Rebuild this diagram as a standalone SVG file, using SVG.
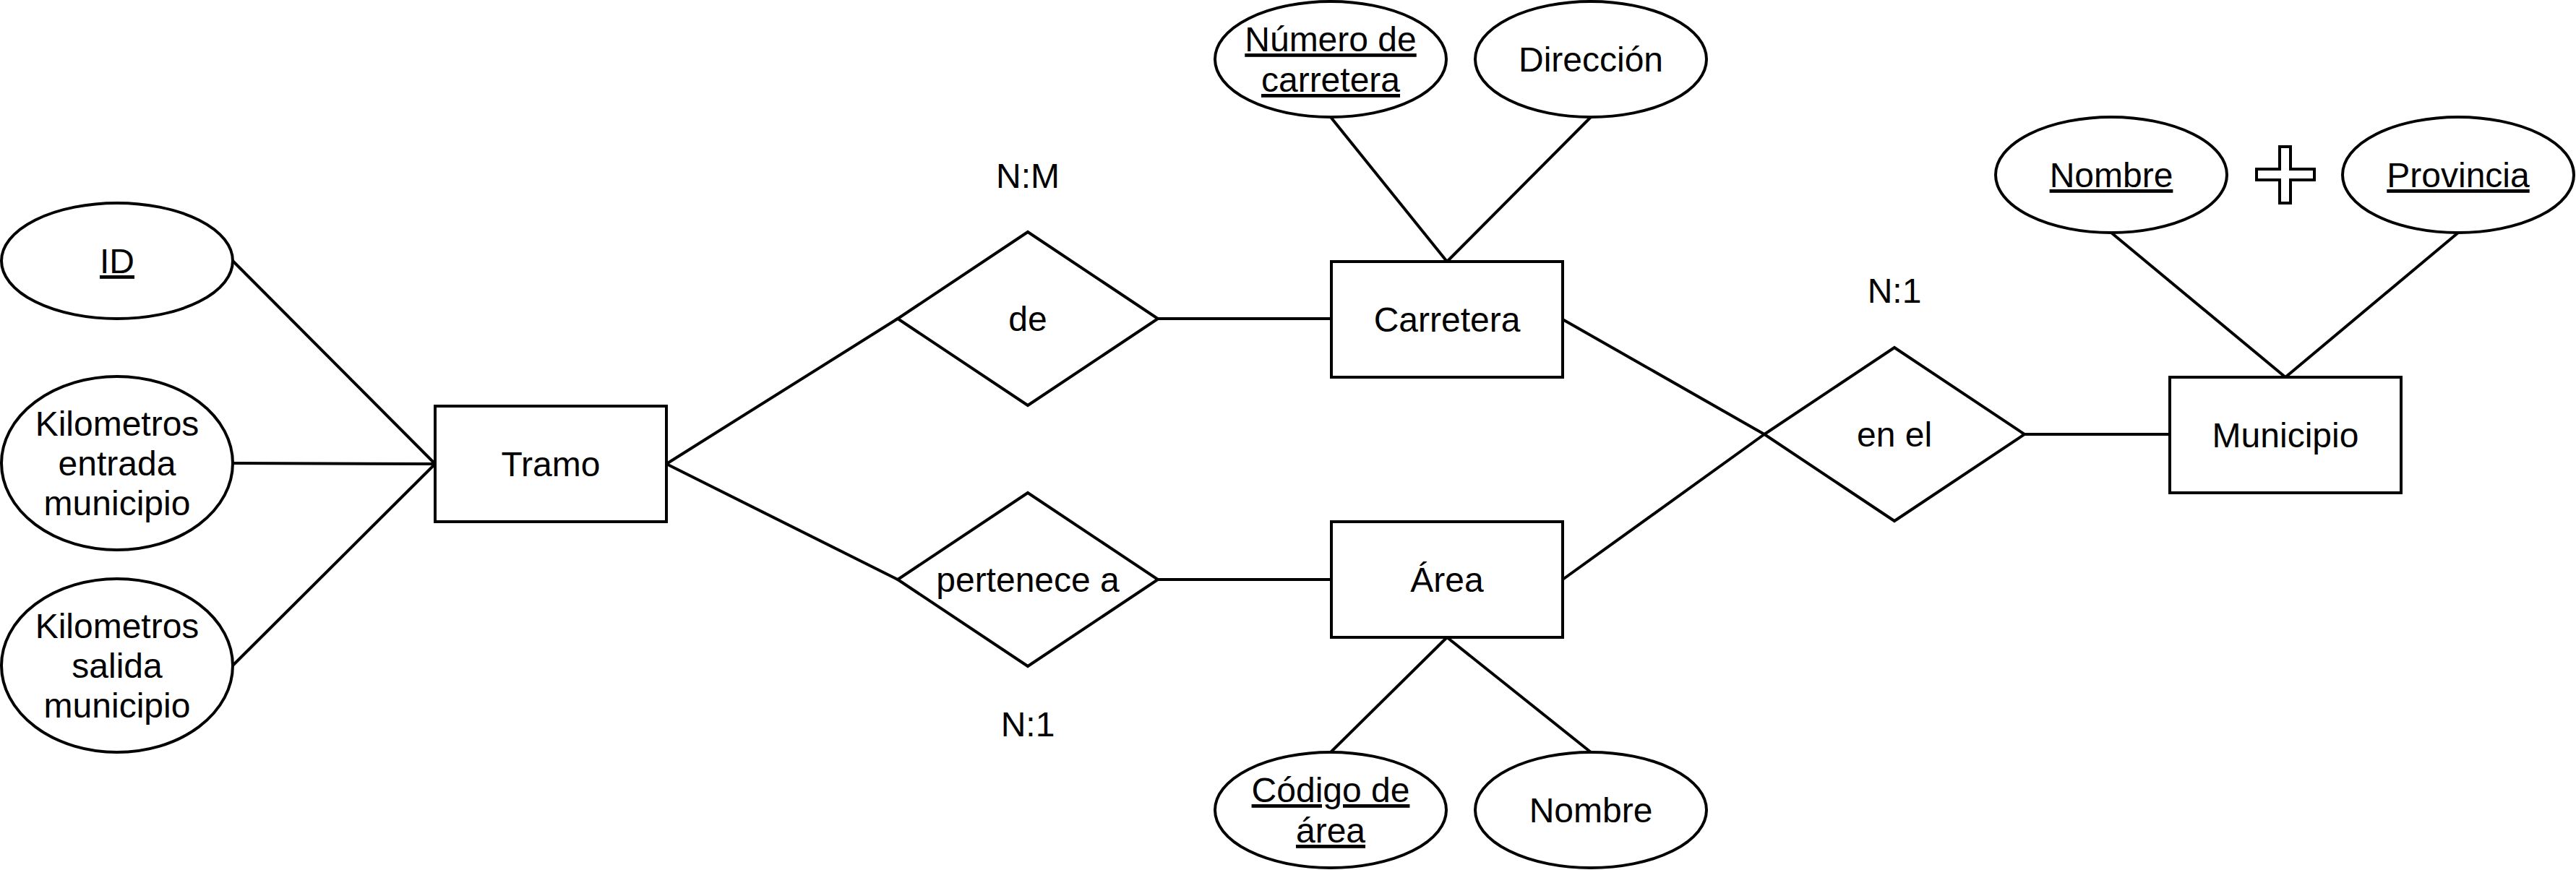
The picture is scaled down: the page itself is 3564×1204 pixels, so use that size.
<svg xmlns="http://www.w3.org/2000/svg" width="3564" height="1204" viewBox="0 0 3564 1204">
<style>
.s{fill:#fff;stroke:#000;stroke-width:4}
.c{fill:none;stroke:#000;stroke-width:4}
text{font-family:"Liberation Sans",Arial,sans-serif;font-size:48px;fill:#000;text-anchor:middle}
.u{text-decoration:underline}
</style>
<rect width="3564" height="1204" fill="#fff"/>
<g id="connectors">
<line class="c" x1="322" y1="361" x2="602" y2="642"/>
<line class="c" x1="322" y1="641" x2="602" y2="642"/>
<line class="c" x1="322" y1="921" x2="602" y2="642"/>
<line class="c" x1="922" y1="642" x2="1242" y2="441"/>
<line class="c" x1="922" y1="642" x2="1242" y2="802"/>
<line class="c" x1="1602" y1="441" x2="1842" y2="441"/>
<line class="c" x1="1602" y1="802" x2="1842" y2="802"/>
<line class="c" x1="1841" y1="162" x2="2002" y2="362"/>
<line class="c" x1="2201" y1="162" x2="2002" y2="362"/>
<line class="c" x1="2002" y1="882" x2="1841" y2="1041"/>
<line class="c" x1="2002" y1="882" x2="2201" y2="1041"/>
<line class="c" x1="2162" y1="442" x2="2441" y2="601"/>
<line class="c" x1="2162" y1="802" x2="2441" y2="601"/>
<line class="c" x1="2801" y1="601" x2="3002" y2="601"/>
<line class="c" x1="2921" y1="322" x2="3162" y2="522"/>
<line class="c" x1="3401" y1="322" x2="3162" y2="522"/>
</g>
<g id="attr-id"><ellipse class="s" cx="162" cy="361" rx="160" ry="80"/><text x="162" y="378" class="u">ID</text></g>
<g id="attr-km-entrada"><ellipse class="s" cx="162" cy="641" rx="160" ry="120"/><text x="162" y="603">Kilometros</text><text x="162" y="658">entrada</text><text x="162" y="713">municipio</text></g>
<g id="attr-km-salida"><ellipse class="s" cx="162" cy="921" rx="160" ry="120"/><text x="162" y="883">Kilometros</text><text x="162" y="938">salida</text><text x="162" y="993">municipio</text></g>
<g id="tramo"><rect class="s" x="602" y="562" width="320" height="160"/><text x="762" y="659">Tramo</text></g>
<g id="rel-de"><polygon class="s" points="1422,321 1602,441 1422,561 1242,441"/><text x="1422" y="458">de</text></g>
<g id="rel-pertenece"><polygon class="s" points="1422,682 1602,802 1422,922 1242,802"/><text x="1422" y="819">pertenece a</text></g>
<g id="label-nm"><text x="1422" y="260">N:M</text></g>
<g id="label-n1-bottom"><text x="1422" y="1019">N:1</text></g>
<g id="carretera"><rect class="s" x="1842" y="362" width="320" height="160"/><text x="2002" y="459">Carretera</text></g>
<g id="attr-numero"><ellipse class="s" cx="1841" cy="82" rx="160" ry="80"/><text x="1841" y="71" class="u">Número de</text><text x="1841" y="127" class="u">carretera</text></g>
<g id="attr-direccion"><ellipse class="s" cx="2201" cy="82" rx="160" ry="80"/><text x="2201" y="99">Dirección</text></g>
<g id="area"><rect class="s" x="1842" y="722" width="320" height="160"/><text x="2002" y="819">Área</text></g>
<g id="attr-codigo"><ellipse class="s" cx="1841" cy="1121" rx="160" ry="80"/><text x="1841" y="1110" class="u">Código de</text><text x="1841" y="1166" class="u">área</text></g>
<g id="attr-nombre-area"><ellipse class="s" cx="2201" cy="1121" rx="160" ry="80"/><text x="2201" y="1138">Nombre</text></g>
<g id="rel-en-el"><polygon class="s" points="2621,481 2801,601 2621,721 2441,601"/><text x="2621" y="618">en el</text></g>
<g id="label-n1-top"><text x="2621" y="419">N:1</text></g>
<g id="municipio"><rect class="s" x="3002" y="522" width="320" height="160"/><text x="3162" y="619">Municipio</text></g>
<g id="attr-nombre-mun"><ellipse class="s" cx="2921" cy="242" rx="160" ry="80"/><text x="2921" y="259" class="u">Nombre</text></g>
<g id="attr-provincia"><ellipse class="s" cx="3401" cy="242" rx="160" ry="80"/><text x="3401" y="259" class="u">Provincia</text></g>
<g id="plus"><polygon class="s" points="3154,203 3169,203 3169,234 3202,234 3202,249 3169,249 3169,281 3154,281 3154,249 3122,249 3122,234 3154,234"/></g>
</svg>
